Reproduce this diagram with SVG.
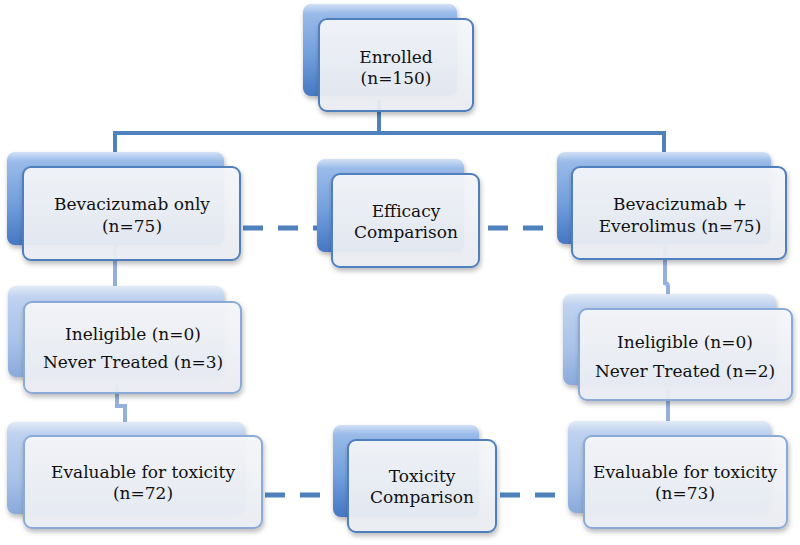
<svg xmlns="http://www.w3.org/2000/svg" width="800" height="545" viewBox="0 0 800 545">
<defs>
<linearGradient id="gDark" x1="0" y1="0" x2="0" y2="1">
<stop offset="0" stop-color="#D2E1F6"/>
<stop offset="0.1" stop-color="#9ABBE9"/>
<stop offset="0.55" stop-color="#739FDC"/>
<stop offset="1" stop-color="#4677C2"/>
</linearGradient>
<linearGradient id="gLight" x1="0" y1="0" x2="0" y2="1">
<stop offset="0" stop-color="#E2EBF8"/>
<stop offset="0.12" stop-color="#BFD2EF"/>
<stop offset="0.6" stop-color="#A9C2E8"/>
<stop offset="1" stop-color="#8AAADB"/>
</linearGradient>
<linearGradient id="gFront" x1="0" y1="0" x2="0" y2="1">
<stop offset="0" stop-color="#F6F7FA"/>
<stop offset="1" stop-color="#EBEEF4"/>
</linearGradient>
<filter id="sh" x="-10%" y="-10%" width="125%" height="130%">
<feDropShadow dx="1" dy="3" stdDeviation="2.5" flood-color="#000" flood-opacity="0.28"/>
</filter>
</defs>
<style>
.bd{fill:url(#gDark);filter:url(#sh)}
.bl{fill:url(#gLight);filter:url(#sh)}
.fr{fill:url(#gFront);fill-opacity:0.93;stroke:#4F7FBD;stroke-width:2;filter:url(#sh)}
.frl{fill:url(#gFront);fill-opacity:0.93;stroke:#8AAAD8;stroke-width:2;filter:url(#sh)}
.t{font-family:"DejaVu Serif","Liberation Serif",serif;font-size:17px;fill:#111;text-anchor:middle}
.c{fill:none;stroke:#4F81BD;stroke-width:4}
.cl{fill:none;stroke:#93B1DC;stroke-width:4}
.d{fill:none;stroke:#4F81BD;stroke-width:5;stroke-dasharray:20 15}
</style>
<g id="connectors">
<path class="c" d="M379,100 V133 M115,133 H665 M115,131 V160 M664,131 V160"/>
<path class="cl" d="M115,245 V290"/>
<path class="cl" d="M117,385 V406 H125 V430"/>
<path class="cl" d="M665,245 V283 Q668,283 668,287 V300"/>
<path class="cl" d="M668,390 V430"/>
<path class="d" d="M243,228 H320"/>
<path class="d" d="M488,228 H560"/>
<path class="d" d="M265,495 H336"/>
<path class="d" d="M500,495 H570"/>
</g>
<g id="n-enrolled">
<rect class="bd" x="303" y="4" width="154" height="92" rx="8"/>
<rect class="fr" x="319" y="19" width="154" height="92" rx="8"/>
<text class="t" x="396" y="63">Enrolled</text>
<text class="t" x="396" y="84">(n=150)</text>
</g>
<g id="n-bev">
<rect class="bd" x="7" y="152" width="217" height="93" rx="8"/>
<rect class="fr" x="23" y="167" width="217" height="93" rx="8"/>
<text class="t" x="132" y="210">Bevacizumab only</text>
<text class="t" x="132" y="232">(n=75)</text>
</g>
<g id="n-efficacy">
<rect class="bd" x="317" y="159" width="147" height="93" rx="8"/>
<rect class="fr" x="332" y="174" width="147" height="93" rx="8"/>
<text class="t" x="406" y="217">Efficacy</text>
<text class="t" x="406" y="238">Comparison</text>
</g>
<g id="n-beveve">
<rect class="bd" x="557" y="152" width="214" height="92" rx="8"/>
<rect class="fr" x="572" y="167" width="214" height="92" rx="8"/>
<text class="t" x="680" y="210">Bevacizumab +</text>
<text class="t" x="680" y="232">Everolimus (n=75)</text>
</g>
<g id="n-inel-left">
<rect class="bl" x="8" y="286" width="216" height="91" rx="8"/>
<rect class="frl" x="24" y="302" width="217" height="91" rx="8"/>
<text class="t" x="133" y="340">Ineligible (n=0)</text>
<text class="t" x="133" y="368">Never Treated (n=3)</text>
</g>
<g id="n-inel-right">
<rect class="bl" x="563" y="294" width="213" height="91" rx="8"/>
<rect class="frl" x="579" y="309" width="213" height="91" rx="8"/>
<text class="t" x="685" y="348">Ineligible (n=0)</text>
<text class="t" x="685" y="377">Never Treated (n=2)</text>
</g>
<g id="n-eval-left">
<rect class="bl" x="7" y="422" width="238" height="92" rx="8"/>
<rect class="frl" x="24" y="436" width="238" height="92" rx="8"/>
<text class="t" x="143" y="478">Evaluable for toxicity</text>
<text class="t" x="143" y="499">(n=72)</text>
</g>
<g id="n-toxicity">
<rect class="bd" x="333" y="425" width="146" height="92" rx="8"/>
<rect class="fr" x="348" y="440" width="148" height="92" rx="8"/>
<text class="t" x="422" y="482">Toxicity</text>
<text class="t" x="422" y="503">Comparison</text>
</g>
<g id="n-eval-right">
<rect class="bl" x="568" y="421" width="203" height="92" rx="8"/>
<rect class="frl" x="584" y="436" width="203" height="92" rx="8"/>
<text class="t" x="685" y="478">Evaluable for toxicity</text>
<text class="t" x="685" y="499">(n=73)</text>
</g>
</svg>
